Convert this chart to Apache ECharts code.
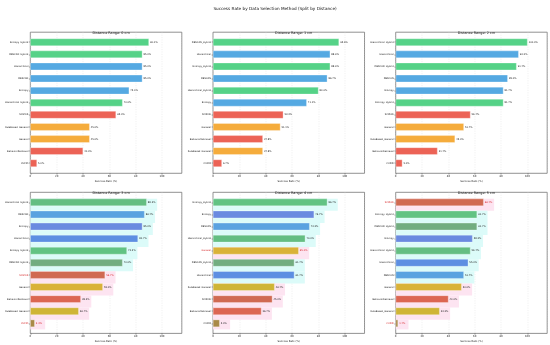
<!DOCTYPE html>
<html><head><meta charset="utf-8">
<script src="https://cdn.jsdelivr.net/npm/echarts@6/dist/echarts.min.js"></script>
<style>html,body{margin:0;padding:0;background:#fff}#c{width:550px;height:345px}</style>
</head><body><div id="c"></div>
<script>
const chartTitle = "Success Rate by Data Selection Method (Split by Distance)";
const panelTitles = ["Distance Range: 0 cm","Distance Range: 1 cm","Distance Range: 2 cm","Distance Range: 3 cm","Distance Range: 4 cm","Distance Range: 5 cm"];
const xTicks = [0,20,40,60,80,100];
const cats0 = ["Entropy_Hybrid","DBSCAN_Hybrid","Hierarchical","DBSCAN","Entropy","Hierarchical_Hybrid","SCIZOR","RuleBased_General","General","BehaviorRetrieval","CUPID"];
const vals0 = [90.0,85.0,85.0,85.0,75.0,70.0,65.0,45.0,45.0,40.0,5.0];
const cats1 = ["DBSCAN_Hybrid","Hierarchical","Entropy_Hybrid","DBSCAN","Hierarchical_Hybrid","Entropy","SCIZOR","General","BehaviorRetrieval","RuleBased_General","CUPID"];
const vals1 = [95.6,88.9,88.9,86.7,80.0,71.1,53.3,51.1,37.8,37.8,6.7];
const cats2 = ["Hierarchical_Hybrid","Hierarchical","DBSCAN_Hybrid","DBSCAN","Entropy","Entropy_Hybrid","SCIZOR","General","RuleBased_General","BehaviorRetrieval","CUPID"];
const vals2 = [100.0,93.3,91.7,85.0,81.7,81.7,56.7,51.7,45.0,31.7,5.0];
const cats3 = ["Hierarchical_Hybrid","DBSCAN","Entropy","Hierarchical","Entropy_Hybrid","DBSCAN_Hybrid","SCIZOR","General","BehaviorRetrieval","RuleBased_General","CUPID"];
const vals3 = [88.3,86.7,85.0,81.7,73.3,70.0,56.7,55.0,38.3,36.7,3.3];
const cats4 = ["Entropy_Hybrid","Entropy","DBSCAN","Hierarchical_Hybrid","General","DBSCAN_Hybrid","Hierarchical","RuleBased_General","SCIZOR","BehaviorRetrieval","CUPID"];
const vals4 = [86.7,76.7,73.3,70.0,65.0,61.7,61.7,46.7,45.0,36.7,5.0];
const cats5 = ["SCIZOR","Entropy_Hybrid","DBSCAN_Hybrid","Entropy","Hierarchical_Hybrid","Hierarchical","DBSCAN","General","BehaviorRetrieval","RuleBased_General","CUPID"];
const vals5 = [66.7,61.7,61.7,58.3,56.7,55.0,51.7,50.0,40.0,33.3,1.7];

const hybridMethods = ["Entropy_Hybrid","DBSCAN_Hybrid","Hierarchical_Hybrid"];
const clusterMethods = ["Hierarchical","DBSCAN","Entropy"];
const generalMethods = ["RuleBased_General","General"];
const baselineMethods = ["SCIZOR","BehaviorRetrieval","CUPID"];
// methods whose labels are highlighted in red in the lower panels
const highlighted3 = ["SCIZOR","CUPID"];
const highlighted4 = ["General"];
const highlighted5 = ["SCIZOR","CUPID"];

const allCats = [cats0,cats1,cats2,cats3,cats4,cats5];
const allVals = [vals0,vals1,vals2,vals3,vals4,vals5];
const allHi = [[],[],[],highlighted3,highlighted4,highlighted5];

const topColors = {hybrid:"#55d287", cluster:"#55a9e2", general:"#f5ac3c", baseline:"#ec6356"};
const botColors = {
  Entropy_Hybrid:"#62c383", DBSCAN_Hybrid:"#72ad80", Hierarchical_Hybrid:"#64be82",
  Hierarchical:"#5d8fe2", DBSCAN:"#5aa2e0", Entropy:"#6a8ae0",
  General:"#d9b238", RuleBased_General:"#cfb536",
  SCIZOR:"#d06a52", BehaviorRetrieval:"#dc6652", CUPID:"#a98a48"
};
function groupOf(m){
  if(hybridMethods.includes(m)) return "hybrid";
  if(clusterMethods.includes(m)) return "cluster";
  if(generalMethods.includes(m)) return "general";
  return "baseline";
}
const FONT = "DejaVu Sans";
const colLeft = [30.3, 213, 395.7];
const plotW = 151.5;
const rowTop = [32.2, 192.3];
const band = 12.1;
const plotH = band*11.66;

const grid=[], xAxis=[], yAxis=[], series=[], title=[];
title.push({text:chartTitle,left:'center',top:2,textStyle:{fontFamily:FONT,fontSize:4.2,fontWeight:'normal',color:'#111'}});
for(let p=0;p<6;p++){
  const r = Math.floor(p/3), c = p%3;
  const L = colLeft[c], T = rowTop[r];
  const cats = allCats[p], vals = allVals[p], hi = allHi[p];
  title.push({text:panelTitles[p], left: L+plotW/2, top:T-5.3, textAlign:'center',
    textStyle:{fontFamily:FONT,fontSize:3.4,fontWeight:'normal',color:'#111'}});
  const go = grid.length;
  grid.push({left:L, top:T, width:plotW, height:plotH, show:true, borderColor:'#222', borderWidth:0.5, backgroundColor:'transparent'});
  xAxis.push({type:'value', gridIndex:go, min:0, max:115, interval:20,
    axisLine:{show:false}, axisTick:{show:true,length:1.4,lineStyle:{color:'#222',width:0.4}},
    axisLabel:{fontFamily:FONT,fontSize:2.6,color:'#222',margin:1.8,showMaxLabel:false},
    splitLine:{show:true,lineStyle:{color:'#dcdcdc',width:0.4,type:[1.2,1.2]}},
    name:'Success Rate (%)', nameLocation:'middle', nameGap:6.5,
    nameTextStyle:{fontFamily:FONT,fontSize:2.6,color:'#222'}});
  yAxis.push({type:'value', gridIndex:go, min:0, max:1, show:false});
  const gi = grid.length;
  grid.push({left:L, top:T+0.33*band, width:plotW, height:11*band});
  xAxis.push({type:'value', gridIndex:gi, min:0, max:115, show:false});
  yAxis.push({type:'category', gridIndex:gi, data:cats, inverse:true,
    axisLine:{show:false}, axisTick:{show:true,alignWithLabel:true,length:1.4,lineStyle:{color:'#222',width:0.4}},
    axisLabel:{fontFamily:FONT,fontSize:2.4,margin:2,
      color: (val)=> hi.includes(val) ? '#d62728' : '#222'}, splitLine:{show:false}});
  if(r===1){
    series.push({type:'bar', xAxisIndex:gi, yAxisIndex:gi, barWidth:'100%', barGap:'-100%', silent:true, z:1,
      data: vals.map((v,i)=>{const g=groupOf(cats[i]);
        const bg = (g==='hybrid'||g==='cluster') ? '#dcfbf9' : '#fde4f1';
        return {value: v+8, itemStyle:{color:bg}};})});
  }
  series.push({type:'bar', xAxisIndex:gi, yAxisIndex:gi, barWidth:'60%', barGap:'-100%', z:2,
    data: vals.map((v,i)=>({value:v,
      itemStyle:{color: r===0 ? topColors[groupOf(cats[i])] : botColors[cats[i]], borderColor:'#fff', borderWidth:0.3},
      label:{color: hi.includes(cats[i]) ? '#d62728' : '#222'}})),
    label:{show:true, position:'right', distance:1.2, fontFamily:FONT, fontSize:2.4,
      formatter: d => d.value.toFixed(1)+'%'}});
}
const chart = echarts.init(document.getElementById('c'), null, {renderer:'canvas'});
chart.setOption({animation:false, backgroundColor:'#fff', title, grid, xAxis, yAxis, series});
</script></body></html>
